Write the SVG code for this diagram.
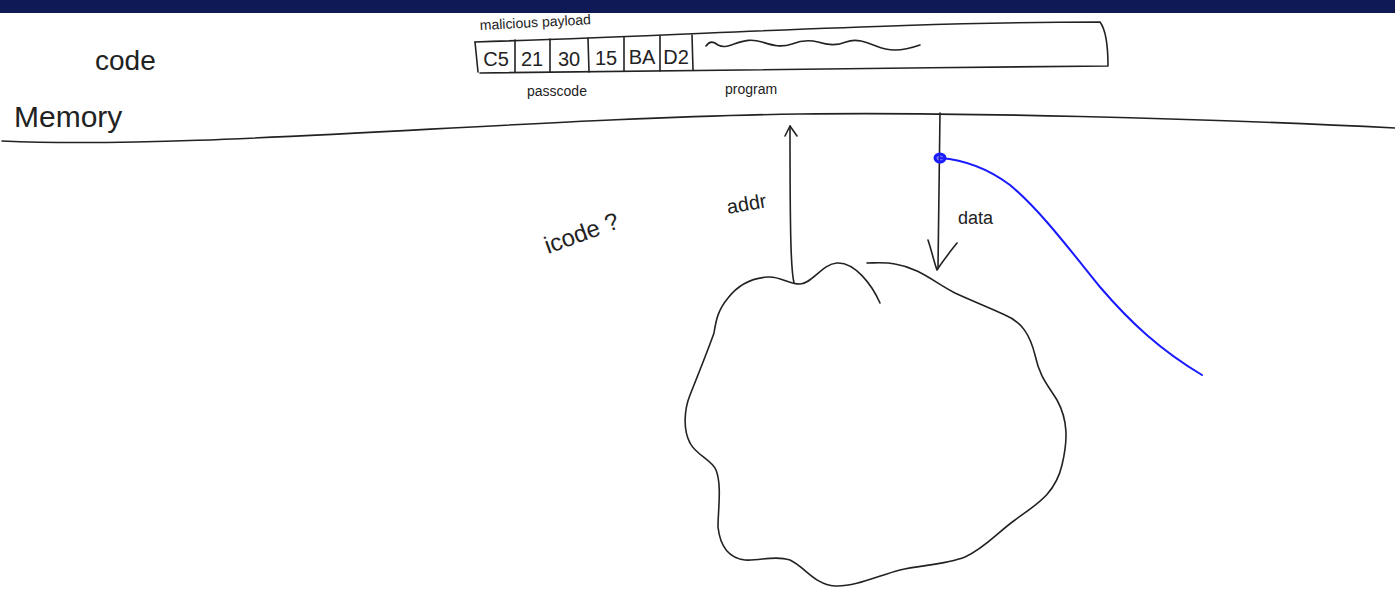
<svg xmlns="http://www.w3.org/2000/svg" width="1395" height="589" viewBox="0 0 1395 589">
<style>
.ink{fill:none;stroke:#222;stroke-width:1.6;stroke-linecap:round;stroke-linejoin:round}
.blue{fill:none;stroke:#1a1aff;stroke-width:2;stroke-linecap:round}
.hw{font-family:"Liberation Sans",Arial,sans-serif;fill:#222;font-weight:normal}
.cell{font-family:"Liberation Sans",Arial,sans-serif;fill:#222;font-size:20px;text-anchor:middle}
</style>
<rect width="1395" height="589" fill="#ffffff"/>
<rect x="0" y="0" width="1395" height="13" fill="#0f1a55"/>

<g id="memory">
<path class="ink" d="M2,141 C200,150 520,118 800,114 C950,112 1200,118 1395,128"/>
<text class="hw" x="14" y="127" font-size="30">Memory</text>
<text class="hw" x="95" y="70" font-size="28">code</text>
</g>

<g id="payload">
<path class="ink" d="M475,42 L478,72"/>
<path class="ink" d="M475,42 C700,35 900,22 1100,22 C1106,30 1108,50 1108,66 C900,68 700,70 480,73"/>
<path class="ink" d="M515,40 L515,72 M550,39 L550,72 M588,38 L589,72 M624,37 L624,71 M660,36 L660,71 M692,35 L693,70"/>
<text class="cell" x="496" y="66">C5</text>
<text class="cell" x="532" y="66">21</text>
<text class="cell" x="569" y="66">30</text>
<text class="cell" x="606" y="65">15</text>
<text class="cell" x="642" y="64">BA</text>
<text class="cell" x="676" y="64">D2</text>
<path class="ink" stroke-width="2" d="M706,46 C710,40 714,42 718,45 C724,48 728,46 734,44 C745,40 752,39 762,42 C772,45 780,48 792,44 C802,40 810,40 818,42 C828,45 836,46 846,42 C856,38 866,42 876,46 C888,51 900,52 920,45"/>
<text class="hw" x="480" y="30" font-size="14" transform="rotate(-3 480 30)">malicious payload</text>
<text class="hw" x="527" y="96" font-size="14">passcode</text>
<text class="hw" x="725" y="94" font-size="14">program</text>
</g>

<g id="cpu">
<path class="ink" d="M880,303 C872,285 855,262 837,263 C822,264 812,284 800,284 C788,284 780,276 768,277 C752,278 738,285 728,298 C718,310 716,320 714,333 C708,350 698,375 690,395 C684,410 683,430 690,443 C696,455 712,460 716,470 C722,485 718,510 718,527 C720,545 728,558 745,560 C760,561 775,555 790,560 C805,567 815,585 835,586 C855,587 880,575 900,570 C920,565 945,565 965,557 C985,548 998,532 1015,520 C1035,505 1055,495 1062,465 C1068,440 1068,420 1057,400 C1048,385 1040,378 1035,355 C1030,335 1022,322 1005,315 C990,308 970,300 955,293 C935,283 920,268 895,264 C885,262 875,263 867,263"/>
<text class="hw" x="548" y="254" font-size="24" transform="rotate(-20 548 254)">icode ?</text>
</g>

<g id="connectors">
<path class="ink" d="M794,283 C791,270 790,240 790,126"/>
<path class="ink" d="M785,136 L790,126 L797,136"/>
<text class="hw" x="728" y="214" font-size="20" transform="rotate(-10 728 214)">addr</text>
<path class="ink" d="M940,113 L938,268"/>
<path class="ink" d="M928,240 C932,252 934,262 937,270 C942,262 950,252 957,243"/>
<text class="hw" x="958" y="224" font-size="18">data</text>
<path class="blue" d="M940,158 C965,160 990,170 1010,185 C1040,210 1070,250 1100,287 C1130,322 1160,350 1202,375"/>
<ellipse cx="940" cy="158" rx="5" ry="4" fill="#1a1aff" fill-opacity="0.6" stroke="#1a1aff" stroke-width="3"/>
</g>
</svg>
